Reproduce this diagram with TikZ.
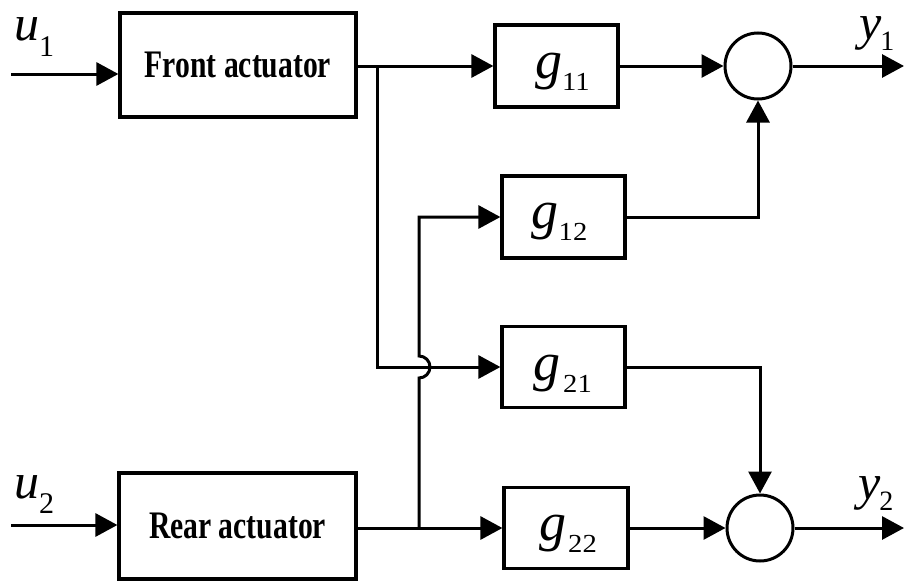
\documentclass[tikz,border=0pt]{standalone}
\usepackage{fontspec}
\usepackage{graphicx}
\setmainfont{Liberation Serif}
\usetikzlibrary{arrows.meta}

% fonts for the block captions and the signal names
\newcommand\actfont{\fontsize{39}{39}\selectfont\bfseries}
\newcommand\bigit[2]{{\fontsize{#1}{#1}\selectfont\itshape #2}}
\newcommand\subtxt[3]{\raisebox{-#1}{\fontsize{#2}{#2}\selectfont #3}}
\newcommand\gsub[2]{\bigit{54}{g}\kern#1\raisebox{-12pt}{\scalebox{1.1}[1]{\fontsize{26}{26}\selectfont #2}}}

\tikzset{
  wire/.style={line width=3pt},
  arr/.style={wire, -{Triangle[length=22pt,width=23pt]}},
  block/.style={draw, line width=3.2pt, rectangle, inner sep=0pt},
  sumnode/.style={draw, line width=3pt, circle, minimum size=66pt, inner sep=0pt},
  glab/.style={anchor=base, inner sep=0pt},
  iolab/.style={anchor=base west, inner sep=0pt},
}

\begin{document}
\begin{tikzpicture}[x=1pt, y=-1pt]
  \useasboundingbox (0,0) rectangle (905,581);

  % actuators
  \node[block, minimum width=236pt, minimum height=104pt] (FA) at (238,65)
    {\scalebox{0.76}[1]{\actfont Front actuator}};
  \node[block, minimum width=237pt, minimum height=106pt] (RA) at (237.5,526)
    {\scalebox{0.76}[1]{\actfont Rear actuator}};

  % transfer blocks
  \node[block, minimum width=123pt, minimum height=82pt] (g11) at (556.5,66) {};
  \node[block, minimum width=123pt, minimum height=82pt] (g12) at (563.5,217) {};
  \node[block, minimum width=123pt, minimum height=81pt] (g21) at (563.5,367) {};
  \node[block, minimum width=124pt, minimum height=81pt] (g22) at (566,528) {};

  \node[glab] (t11) at ([xshift=6pt,yshift=-12pt]g11.center) {\gsub{0pt}{11}};
  \node[glab] (t12) at ([xshift=-4pt,yshift=-11pt]g12.center) {\gsub{0pt}{12}};
  \node[glab] (t21) at ([xshift=-1pt,yshift=-13pt]g21.center) {\gsub{3pt}{21}};
  \node[glab] (t22) at ([xshift=2pt,yshift=-12pt]g22.center) {\gsub{2pt}{22}};

  % summing junctions
  \node[sumnode] (S1) at (758,66) {};
  \node[sumnode] (S2) at (760,528) {};

  % signal names
  \node[iolab] (lu1) at (14,40) {\bigit{50}{u}\subtxt{16pt}{30}{1}};
  \node[iolab] (lu2) at (14,498) {\bigit{50}{u}\subtxt{15pt}{30}{2}};
  \node[iolab] (ly1) at (859,39) {\bigit{50}{y}\kern-1pt\subtxt{11pt}{28}{1}};
  \node[iolab] (ly2) at (858,499) {\bigit{50}{y}\kern-1pt\subtxt{11pt}{28}{2}};

  % inputs and outputs
  \coordinate (in1) at (11,74);
  \coordinate (in2) at (11,525);
  \coordinate (out1) at (904,66);
  \coordinate (out2) at (904,528);
  \draw[arr] (in1) -- (in1 -| FA.west);
  \draw[arr] (in2) -- (in2 -| RA.west);
  \draw[arr] (S1.east) -- (out1);
  \draw[arr] (S2.east) -- (out2);

  % front actuator feeds g11 and g21
  \coordinate (bf) at (377,66);
  \draw[arr] (FA.east |- g11.west) -- (g11.west);
  \draw[arr] (bf) |- (g21.west);

  % rear actuator feeds g22 and g12, hopping over the g21 feed
  \coordinate (br) at (419,528);
  \draw[arr] (RA.east |- g22.west) -- (g22.west);
  \draw[arr] (br) -- ([yshift=-11pt]br |- g21.west)
    arc[start angle=-90, end angle=90, radius=11pt]
    -- (br |- g12.west) -- (g12.west);

  % block outputs into the summing junctions
  \draw[arr] (g11.east) -- (S1.west);
  \draw[arr] (g12.east) -| (S1.south);
  \draw[arr] (g21.east) -| (S2.north);
  \draw[arr] (g22.east) -- (S2.west);
\end{tikzpicture}
\end{document}
